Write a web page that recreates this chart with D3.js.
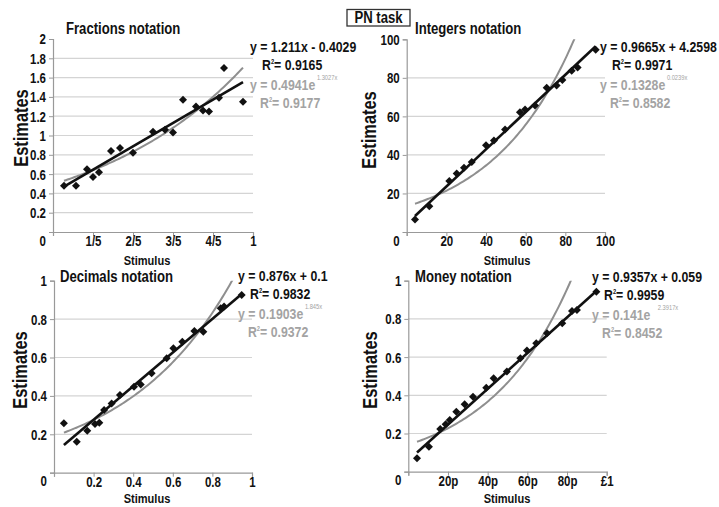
<!DOCTYPE html>
<html>
<head>
<meta charset="utf-8">
<script src="https://cdn.jsdelivr.net/npm/d3@7"></script>
<style>
  body { margin: 0; background: #fff; }
  svg { display: block; }
  text { font-family: 'Liberation Sans', Arial, sans-serif; font-weight: bold; }
</style>
</head>
<body>
<svg id="chart" width="719" height="507"></svg>
<script>
// ---- data ----
const titles = ["Fractions notation", "Integers notation", "Decimals notation", "Money notation"];

const fracX = [0.055, 0.115, 0.17, 0.2, 0.23, 0.29, 0.335, 0.4, 0.5, 0.56, 0.6, 0.65, 0.715, 0.75, 0.78, 0.83, 0.855, 0.95];
const fracY = [0.48, 0.48, 0.65, 0.57, 0.62, 0.84, 0.87, 0.82, 1.04, 1.06, 1.03, 1.37, 1.30, 1.26, 1.25, 1.39, 1.70, 1.35];

const intX = [4.2, 11.4, 21.5, 25.2, 28.9, 32.8, 40, 44, 49.6, 57.1, 59.7, 64.7, 70.6, 75.6, 78.5, 83.2, 86.2, 95.3];
const intY = [6.5, 13.4, 26.5, 30.3, 33.4, 36.3, 45, 47.5, 53.2, 62.2, 63.6, 65.6, 74.8, 76, 78.9, 83.7, 85.4, 94.6];

const decX = [0.05, 0.115, 0.168, 0.207, 0.229, 0.253, 0.291, 0.333, 0.404, 0.438, 0.493, 0.569, 0.603, 0.648, 0.709, 0.754, 0.842, 0.859, 0.948];
const decY = [0.257, 0.161, 0.219, 0.254, 0.26, 0.327, 0.361, 0.405, 0.448, 0.46, 0.518, 0.596, 0.648, 0.682, 0.738, 0.734, 0.856, 0.865, 0.926];

const monX = [0.044, 0.104, 0.161, 0.188, 0.209, 0.242, 0.284, 0.326, 0.393, 0.43, 0.497, 0.565, 0.598, 0.645, 0.699, 0.776, 0.825, 0.85, 0.948];
const monY = [0.07, 0.131, 0.224, 0.248, 0.271, 0.314, 0.353, 0.393, 0.44, 0.489, 0.524, 0.594, 0.634, 0.672, 0.725, 0.777, 0.841, 0.847, 0.942];

const xMax = [1, 100, 1, 1];
const yMax = [2, 100, 1, 1];
const xTicks = [[0.2, 0.4, 0.6, 0.8, 1], [20, 40, 60, 80, 100], [0.2, 0.4, 0.6, 0.8, 1], [0.2, 0.4, 0.6, 0.8, 1]];
const xTickLabels = [["1/5", "2/5", "3/5", "4/5", "1"], ["20", "40", "60", "80", "100"],
                     ["0.2", "0.4", "0.6", "0.8", "1"], ["20p", "40p", "60p", "80p", "£1"]];
const yTicks = [[0, 0.2, 0.4, 0.6, 0.8, 1, 1.2, 1.4, 1.6, 1.8, 2], [0, 20, 40, 60, 80, 100],
                [0, 0.2, 0.4, 0.6, 0.8, 1], [0, 0.2, 0.4, 0.6, 0.8, 1]];

// trend lines: linear [slope, intercept], exponential [a, b] (y = a e^(bx), in plotted units)
const linFit = [[1.211, 0.4029], [0.9665, 4.2598], [0.876, 0.1], [0.9357, 0.059]];
const expFit = [[0.4941, 1.3027], [13.28, 0.0239], [0.1903, 1.845], [0.141, 2.3917]];
const linLabel = ["y = 1.211x - 0.4029", "y = 0.9665x + 4.2598", "y = 0.876x + 0.1", "y = 0.9357x + 0.059"];
const linR2 = ["0.9165", "0.9971", "0.9832", "0.9959"];
const expLabel = ["y = 0.4941e", "y = 0.1328e", "y = 0.1903e", "y = 0.141e"];
const expPow = ["1.3027x", "0.0239x", "1.845x", "2.3917x"];
const expR2 = ["0.9177", "0.8582", "0.9372", "0.8452"];

const seriesX = [fracX, intX, decX, monX];
const seriesY = [fracY, intY, decY, monY];

// ---- layout (pixels) ----
const layout = [
  {x0: 53, x1: 253, yT: 39, yB: 232, tx: 66, ty: 34, sx: 147, sy: 265, ex: 21, ey: 128, lx: 250, ly: 52, supDx: 2},
  {x0: 406.7, x1: 605, yT: 39.3, yB: 232, tx: 415, ty: 34, sx: 507, sy: 265, ex: 369, ey: 130, lx: 600, ly: 52, supDx: 2},
  {x0: 54, x1: 252, yT: 280.7, yB: 472.7, tx: 60, ty: 282, sx: 147, sy: 503.5, ex: 20, ey: 370, lx: 238, ly: 281, supDx: 2},
  {x0: 408.3, x1: 606.7, yT: 280.7, yB: 471.7, tx: 415, ty: 282, sx: 507, sy: 503.5, ex: 370, ey: 370, lx: 592, ly: 282, supDx: 9}
];

const svg = d3.select("#chart");
const gray = "#999";
const fmtY = d => String(+d.toFixed(1));

// PN task box
const pn = svg.append("g");
pn.append("rect").attr("x", 347).attr("y", 9.5).attr("width", 63).attr("height", 16.5)
  .attr("fill", "#fff").attr("stroke", "#333").attr("stroke-width", 1.3);
pn.append("text").attr("x", 378.5).attr("y", 23.5).attr("text-anchor", "middle")
  .attr("font-size", 16).attr("fill", "#111").text("PN task");

layout.forEach(function(L, i) {
  const x = d3.scaleLinear().domain([0, xMax[i]]).range([L.x0, L.x1]);
  const y = d3.scaleLinear().domain([0, yMax[i]]).range([L.yB, L.yT]);
  const g = svg.append("g");

  const clipId = "clip" + i;
  svg.append("clipPath").attr("id", clipId).append("rect")
    .attr("x", L.x0).attr("y", L.yT).attr("width", L.x1 - L.x0).attr("height", L.yB - L.yT);

  // gridlines
  g.selectAll(".grid").data(yTicks[i].filter(d => d > 0 && d < yMax[i]))
    .enter().append("line")
    .attr("x1", L.x0).attr("x2", L.x1)
    .attr("y1", d => y(d)).attr("y2", d => y(d))
    .attr("stroke", "#d4d4d4").attr("stroke-width", 1.2);

  // y axis
  const ya = g.append("g").attr("transform", "translate(" + L.x0 + ",0)")
    .call(d3.axisLeft(y).tickValues(yTicks[i]).tickSize(4).tickPadding(3).tickFormat(fmtY));
  ya.select(".domain").attr("stroke", gray).attr("stroke-width", 1.2);
  ya.selectAll(".tick line").attr("stroke", gray);
  ya.selectAll(".tick text").attr("font-size", 14).attr("fill", "#111")
    .attr("dy", d => d === 0 ? "0.95em" : "0.35em");

  // x axis
  const xa = g.append("g").attr("transform", "translate(0," + L.yB + ")")
    .call(d3.axisBottom(x).tickValues([0].concat(xTicks[i])).tickSize(4).tickPadding(0)
      .tickFormat((d, k) => k === 0 ? "" : xTickLabels[i][k - 1]));
  xa.select(".domain").attr("stroke", gray).attr("stroke-width", 1.2);
  xa.selectAll(".tick line").attr("stroke", gray);
  xa.selectAll(".tick text").attr("font-size", 14).attr("fill", "#111");

  // titles
  g.append("text").attr("x", L.tx).attr("y", L.ty).attr("font-size", 16).attr("fill", "#111").text(titles[i]);
  g.append("text").attr("x", L.sx).attr("y", L.sy).attr("text-anchor", "middle")
    .attr("font-size", 13.5).attr("fill", "#111").text("Stimulus");
  g.append("text").attr("transform", "translate(" + L.ex + "," + L.ey + ") rotate(-90)")
    .attr("text-anchor", "middle").attr("dy", "0.35em")
    .attr("font-size", 20).attr("fill", "#111").text("Estimates");

  const xs = seriesX[i], ys = seriesY[i];
  const pts = xs.map((v, k) => [v, ys[k]]);
  const lo = d3.min(xs), hi = d3.max(xs);

  // exponential trend (gray)
  const a = expFit[i][0], b = expFit[i][1];
  const curve = d3.range(0, 101).map(k => {
    const t = lo + (hi - lo) * k / 100;
    return [t, a * Math.exp(b * t)];
  });
  g.append("path").datum(curve)
    .attr("clip-path", "url(#" + clipId + ")")
    .attr("fill", "none").attr("stroke", "#8f8f8f").attr("stroke-width", 2)
    .attr("d", d3.line().x(d => x(d[0])).y(d => y(d[1])));

  // linear trend (black)
  const m = linFit[i][0], c = linFit[i][1];
  g.append("path").datum([[lo, m * lo + c], [hi, m * hi + c]])
    .attr("fill", "none").attr("stroke", "#111").attr("stroke-width", 2.6)
    .attr("d", d3.line().x(d => x(d[0])).y(d => y(d[1])));

  // points
  g.selectAll(".pt").data(pts).enter().append("path")
    .attr("transform", d => "translate(" + x(d[0]) + "," + y(d[1]) + ")")
    .attr("d", "M0,-4L4,0L0,4L-4,0Z").attr("fill", "#111");

  // equation labels
  g.append("text").attr("x", L.lx).attr("y", L.ly).attr("font-size", 15).attr("fill", "#111").text(linLabel[i]);
  const r1 = g.append("text").attr("x", L.lx + 12).attr("y", L.ly + 18).attr("font-size", 15).attr("fill", "#111");
  r1.append("tspan").text("R");
  r1.append("tspan").attr("font-size", 7).attr("dy", -6).text("2");
  r1.append("tspan").attr("dy", 6).text("= " + linR2[i]);

  const e1 = g.append("text").attr("x", L.lx).attr("y", L.ly + 38).attr("font-size", 15).attr("fill", "#a3a3a3");
  e1.append("tspan").text(expLabel[i]);
  e1.append("tspan").attr("font-size", 7).attr("font-weight", "normal").attr("dx", L.supDx).attr("dy", -10).text(expPow[i]);
  const r2 = g.append("text").attr("x", L.lx + 10).attr("y", L.ly + 56).attr("font-size", 15).attr("fill", "#a3a3a3");
  r2.append("tspan").text("R");
  r2.append("tspan").attr("font-size", 7).attr("dy", -6).text("2");
  r2.append("tspan").attr("dy", 6).text("= " + expR2[i]);
});

// the figure uses a condensed bold face: squeeze every text horizontally about its anchor
svg.selectAll("text").each(function() {
  const t = d3.select(this);
  const ax = +(t.attr("x") || 0);
  const prev = t.attr("transform") || "";
  t.attr("transform", prev + " translate(" + ax + ",0) scale(0.82,1) translate(" + (-ax) + ",0)");
});
</script>
</body>
</html>
